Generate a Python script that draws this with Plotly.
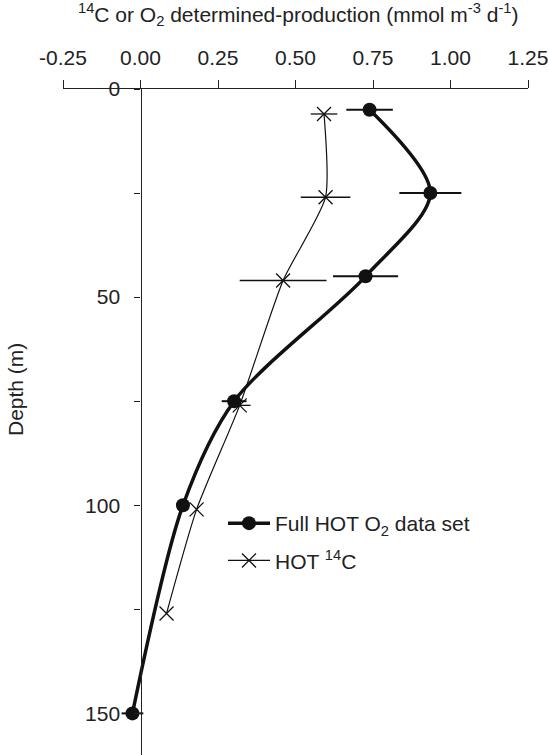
import plotly.graph_objects as go

# Depth profiles of production at Station ALOHA (HOT)
depth_o2 = [5, 25, 45, 75, 100, 150]
prod_o2 = [0.739, 0.935, 0.726, 0.302, 0.137, -0.026]
err_o2 = [0.075, 0.10, 0.105, 0.04, 0.0, 0.035]

depth_14c = [6, 26, 46, 76, 101, 126]
prod_14c = [0.592, 0.597, 0.46, 0.32, 0.181, 0.084]
err_14c = [0.043, 0.08, 0.14, 0.035, 0.0, 0.0]

x_ticks = [-0.25, 0.0, 0.25, 0.5, 0.75, 1.0, 1.25]
x_ticktext = ["-0.25", "0.00", "0.25", "0.50", "0.75", "1.00", "1.25"]
y_ticks = [0, 50, 100, 150]
y_ticktext = ["0", "50", "100", "150"]

FONT = "Arial, Liberation Sans, sans-serif"
INK = "#222222"
MARK = "#111111"

fig = go.Figure()

# horizontal error bars, kept out of the legend
fig.add_trace(go.Scatter(
    x=prod_o2, y=depth_o2, mode="markers",
    marker=dict(size=1, color="rgba(0,0,0,0)"),
    error_x=dict(type="data", array=err_o2, visible=True,
                 color=MARK, thickness=2, width=0),
    showlegend=False, hoverinfo="skip",
))
fig.add_trace(go.Scatter(
    x=prod_14c, y=depth_14c, mode="markers",
    marker=dict(size=1, color="rgba(0,0,0,0)"),
    error_x=dict(type="data", array=err_14c, visible=True,
                 color=MARK, thickness=1.3, width=0),
    showlegend=False, hoverinfo="skip",
))

fig.add_trace(go.Scatter(
    x=prod_o2, y=depth_o2,
    mode="lines+markers",
    name="Full HOT O<sub>2</sub> data set",
    line=dict(color=MARK, width=3.5, shape="spline", smoothing=0.85),
    marker=dict(symbol="circle", size=14, color=MARK),
    legendgroup="o2",
))

fig.add_trace(go.Scatter(
    x=prod_14c, y=depth_14c,
    mode="lines+markers",
    name="HOT <sup>14</sup>C",
    line=dict(color=MARK, width=1.2, shape="spline", smoothing=0.6),
    marker=dict(symbol="x-thin", size=14, color=MARK,
                line=dict(color=MARK, width=1.3)),
    legendgroup="c14",
))

fig.update_layout(
    width=549, height=755,
    margin=dict(l=63, r=21, t=89, b=0, pad=0),
    paper_bgcolor="white", plot_bgcolor="white",
    font=dict(family=FONT, size=21, color=INK),
    showlegend=True,
    legend=dict(
        x=(223 - 63) / 465, y=1 - (503 - 89) / 666,
        xanchor="left", yanchor="top",
        bgcolor="rgba(0,0,0,0)", borderwidth=0,
        itemwidth=42, tracegroupgap=7, traceorder="grouped",
        font=dict(family=FONT, size=21, color=INK),
    ),
    xaxis=dict(
        side="top", range=[-0.25, 1.25],
        tickmode="array", tickvals=x_ticks, ticktext=x_ticktext,
        ticks="outside", ticklen=8, tickwidth=1.3, tickcolor=INK,
        showline=True, linecolor=INK, linewidth=1.3,
        showgrid=False, zeroline=False,
        ticklabelstandoff=6,
        tickfont=dict(family=FONT, size=21, color=INK),
    ),
    yaxis=dict(
        range=[160, 0], anchor="free", position=1 / 6,
        tickmode="array", tickvals=y_ticks, ticktext=y_ticktext,
        ticks="outside", ticklen=6, tickwidth=1.3, tickcolor=INK,
        minor=dict(tickmode="array", tickvals=[25, 75, 125],
                   ticks="outside", ticklen=6, tickwidth=1.3,
                   tickcolor=INK, showgrid=False),
        showline=True, linecolor=INK, linewidth=1.3,
        showgrid=False, zeroline=False,
        ticklabelstandoff=10,
        tickfont=dict(family=FONT, size=21, color=INK),
    ),
    annotations=[
        dict(
            text="<sup>14</sup>C or O<sub>2</sub> determined-production (mmol m<sup>-3</sup> d<sup>-1</sup>)",
            xref="paper", yref="paper", x=0.506, y=1 + (89 - 15) / 666,
            xanchor="center", yanchor="middle", showarrow=False,
            font=dict(family=FONT, size=21, color=INK),
        ),
        dict(
            text="Depth (m)", textangle=-90,
            xref="paper", yref="paper", x=(15 - 63) / 465, y=1 - (390 - 89) / 666,
            xanchor="center", yanchor="middle", showarrow=False,
            font=dict(family=FONT, size=21, color=INK),
        ),
    ],
)

fig.write_html("out.html")
